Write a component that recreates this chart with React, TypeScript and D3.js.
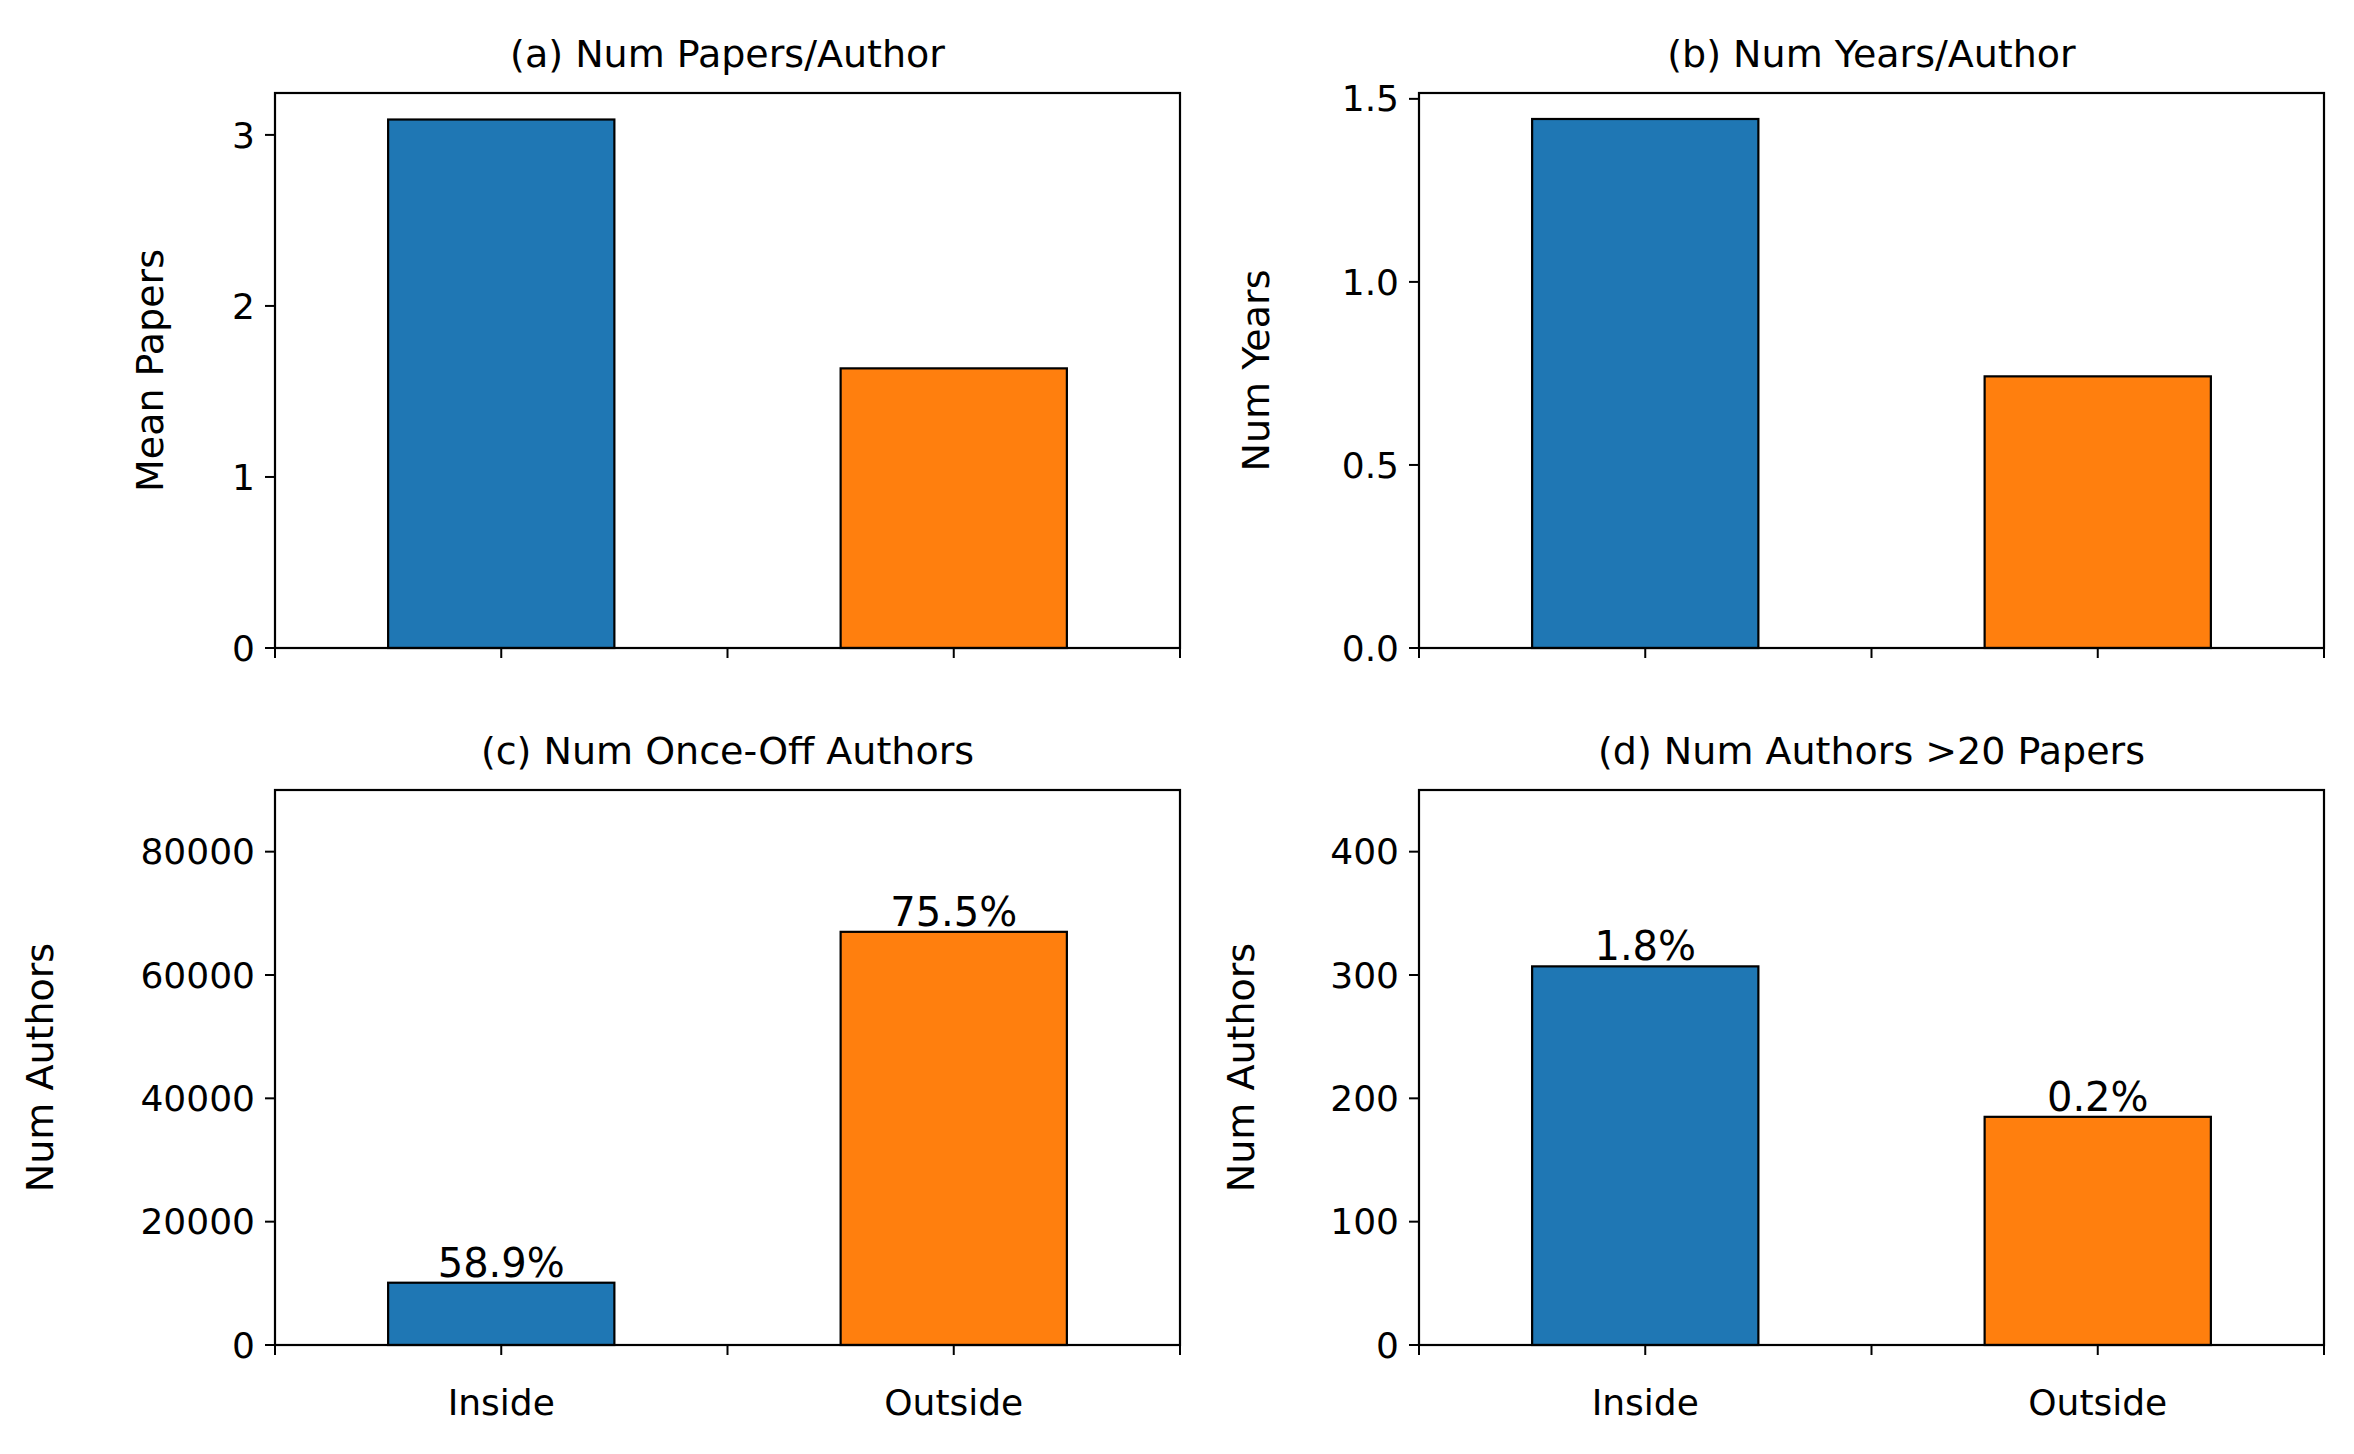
import * as d3 from 'd3';

const categories = ['Inside', 'Outside'];
const colors = ['#1f77b4', '#ff7f0e'];
const titles = ['(a) Num Papers/Author', '(b) Num Years/Author', '(c) Num Once-Off Authors', '(d) Num Authors >20 Papers'];
const yLabels = ['Mean Papers', 'Num Years', 'Num Authors', 'Num Authors'];
const papersValues = [3.09, 1.635];
const yearsValues = [1.445, 0.742];
const onceOffValues = [10100, 67000];
const over20Values = [307, 185];
const onceOffPct = ['58.9%', '75.5%'];
const over20Pct = ['1.8%', '0.2%'];
const yMaxes = [3.245, 1.516, 90000, 450];
const yTicks = [[0, 1, 2, 3], [0, 0.5, 1.0, 1.5], [0, 20000, 40000, 60000, 80000], [0, 100, 200, 300, 400]];
const tickFmt = [(v: number) => String(v), (v: number) => v.toFixed(1), (v: number) => String(v), (v: number) => String(v)];

const panels = [
  { values: papersValues, pct: null as string[] | null, x0: 275, y0: 93, labels: false, labelX: -112 },
  { values: yearsValues, pct: null as string[] | null, x0: 1419, y0: 93, labels: false, labelX: -150 },
  { values: onceOffValues, pct: onceOffPct, x0: 275, y0: 790, labels: true, labelX: -222 },
  { values: over20Values, pct: over20Pct, x0: 1419, y0: 790, labels: true, labelX: -165 },
];

const W = 905;
const H = 555;
const font = 'DejaVu Sans, sans-serif';

export default function App() {
  return (
    <svg width={2354} height={1454} style={{ display: 'block', margin: -8 }} fontFamily={font}>
      <rect width={2354} height={1454} fill="#fff" />
      {panels.map((p, i) => {
        const x = d3.scaleLinear().domain([-0.5, 1.5]).range([0, W]);
        const y = d3.scaleLinear().domain([0, yMaxes[i]]).range([H, 0]);
        const bw = x(0.25) - x(0);
        return (
          <g key={i} transform={`translate(${p.x0},${p.y0})`}>
            <text x={W / 2} y={-26} textAnchor="middle" fontSize={38}>{titles[i]}</text>
            {p.values.map((v, j) => (
              <g key={j}>
                <rect x={x(j) - bw} y={y(v)} width={bw * 2} height={H - y(v)} fill={colors[j]} stroke="#000" strokeWidth={2.2} />
                {p.pct && (
                  <text x={x(j)} y={y(v) - 6} textAnchor="middle" fontSize={40}>{p.pct[j]}</text>
                )}
              </g>
            ))}
            <rect x={0} y={0} width={W} height={H} fill="none" stroke="#000" strokeWidth={2.2} />
            {yTicks[i].map((t) => (
              <g key={t} transform={`translate(0,${y(t)})`}>
                <line x1={-10} x2={0} stroke="#000" strokeWidth={2} />
                <text x={-20} dy="0.35em" textAnchor="end" fontSize={36}>{tickFmt[i](t)}</text>
              </g>
            ))}
            {[-0.5, 0, 0.5, 1, 1.5].map((t) => (
              <line key={t} x1={x(t)} x2={x(t)} y1={H} y2={H + 10} stroke="#000" strokeWidth={2} />
            ))}
            {p.labels && categories.map((c, j) => (
              <text key={c} x={x(j)} y={H + 70} textAnchor="middle" fontSize={36}>{c}</text>
            ))}
            <text transform={`translate(${p.labelX},${H / 2}) rotate(-90)`} textAnchor="middle" fontSize={38}>{yLabels[i]}</text>
          </g>
        );
      })}
    </svg>
  );
}
